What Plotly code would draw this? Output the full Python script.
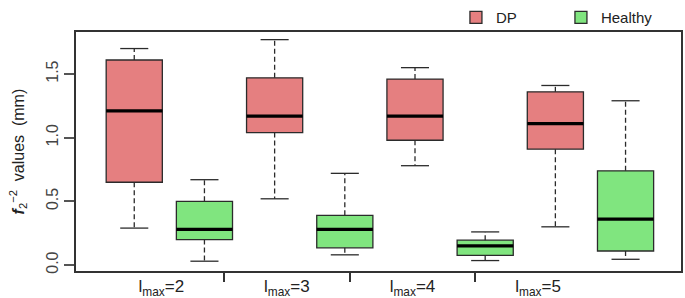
import plotly.graph_objects as go

groups = ["l<sub>max</sub>=2", "l<sub>max</sub>=3", "l<sub>max</sub>=4", "l<sub>max</sub>=5"]

dp_low = [0.29, 0.52, 0.78, 0.30]
dp_q1 = [0.65, 1.04, 0.98, 0.91]
dp_med = [1.21, 1.17, 1.17, 1.11]
dp_q3 = [1.61, 1.47, 1.46, 1.36]
dp_high = [1.70, 1.77, 1.55, 1.41]

h_low = [0.03, 0.08, 0.035, 0.045]
h_q1 = [0.20, 0.135, 0.075, 0.11]
h_med = [0.28, 0.28, 0.15, 0.36]
h_q3 = [0.50, 0.39, 0.195, 0.74]
h_high = [0.67, 0.72, 0.26, 1.29]

DP_COLOR = "#E57F80"
H_COLOR = "#80E57F"
EDGE = "#2b2b2b"
BOX_W = 0.8

dp_pos = [1 + 2 * i for i in range(len(groups))]
h_pos = [2 + 2 * i for i in range(len(groups))]

fig = go.Figure()

def add_series(name, pos, low, q1, med, q3, high, color):
    # whiskers (dashed)
    wx, wy = [], []
    for p, lo, a, b, hi in zip(pos, low, q1, q3, high):
        wx += [p, p, None, p, p, None]
        wy += [b, hi, None, a, lo, None]
    fig.add_trace(go.Scatter(x=wx, y=wy, mode="lines", showlegend=False, hoverinfo="skip",
                             line=dict(color=EDGE, width=1.3, dash="5px,3px")))
    # caps
    cx, cy = [], []
    for p, lo, hi in zip(pos, low, high):
        cx += [p - BOX_W / 4, p + BOX_W / 4, None, p - BOX_W / 4, p + BOX_W / 4, None]
        cy += [hi, hi, None, lo, lo, None]
    fig.add_trace(go.Scatter(x=cx, y=cy, mode="lines", showlegend=False, hoverinfo="skip",
                             line=dict(color=EDGE, width=1.3)))
    # boxes
    fig.add_trace(go.Box(name=name, x=pos, q1=q1, median=med, q3=q3,
                         lowerfence=q1, upperfence=q3, width=BOX_W,
                         fillcolor=color, line=dict(color=EDGE, width=1.3),
                         whiskerwidth=0, hoverinfo="skip"))
    # thick medians
    mx, my = [], []
    for p, m in zip(pos, med):
        mx += [p - BOX_W / 2, p + BOX_W / 2, None]
        my += [m, m, None]
    fig.add_trace(go.Scatter(x=mx, y=my, mode="lines", showlegend=False, hoverinfo="skip",
                             line=dict(color="black", width=3.2)))

add_series("DP", dp_pos, dp_low, dp_q1, dp_med, dp_q3, dp_high, DP_COLOR)
add_series("Healthy", h_pos, h_low, h_q1, h_med, h_q3, h_high, H_COLOR)

# category label axis
fig.add_trace(go.Scatter(x=[0], y=[None], xaxis="x2", showlegend=False, hoverinfo="skip"))

fig.update_layout(
    width=685, height=298,
    margin=dict(l=76, r=4, t=32, b=27, autoexpand=False),
    paper_bgcolor="white", plot_bgcolor="white",
    font=dict(family="Liberation Sans, Arial, sans-serif", color="#222"),
    boxmode="overlay",
    showlegend=True,
    legend=dict(orientation="h", x=0.628, xanchor="left", y=1.06, yanchor="middle",
                font=dict(size=15, color="#222"), entrywidth=60, entrywidthmode="pixels",
                bgcolor="rgba(0,0,0,0)"),
    xaxis=dict(range=[0.17, 8.79], showticklabels=False, ticks="", showgrid=False,
               zeroline=False, showline=True, mirror=True, linecolor="#333", linewidth=1.5),
    xaxis2=dict(overlaying="x", anchor="y", side="bottom", range=[-0.679, 4.138],
                tickmode="array", tickvals=[0, 1, 2, 3], ticktext=groups, ticks="",
                ticklabelstandoff=3,
                minor=dict(tickmode="array", tickvals=[0.5, 1.5, 2.5], ticks="outside",
                           ticklen=10, tickwidth=1.5, tickcolor="#333"),
                tickfont=dict(size=17, color="#222"), showgrid=False, zeroline=False,
                showline=False),
    yaxis=dict(range=[-0.047, 1.83], tickmode="array", tickvals=[0, 0.5, 1.0, 1.5],
               ticktext=["0.0", "0.5", "1.0", "1.5"], tickangle=-90, ticks="outside",
               ticklen=10, tickwidth=1.5, tickcolor="#555",
               tickfont=dict(size=16, color="#444"), showgrid=False, zeroline=False,
               showline=True, mirror=True, linecolor="#333", linewidth=1.5),
    annotations=[dict(text="<b><i>f</i></b><sub>2</sub><sup>−2</sup>  values  (mm)",
                      xref="paper", yref="paper", x=-0.096, y=0.5, xanchor="center",
                      yanchor="middle", textangle=-90, showarrow=False,
                      font=dict(size=16, color="#222"))],
)

fig.write_html("out.html", config={"displayModeBar": False},
               post_script="document.body.style.margin='0';")
